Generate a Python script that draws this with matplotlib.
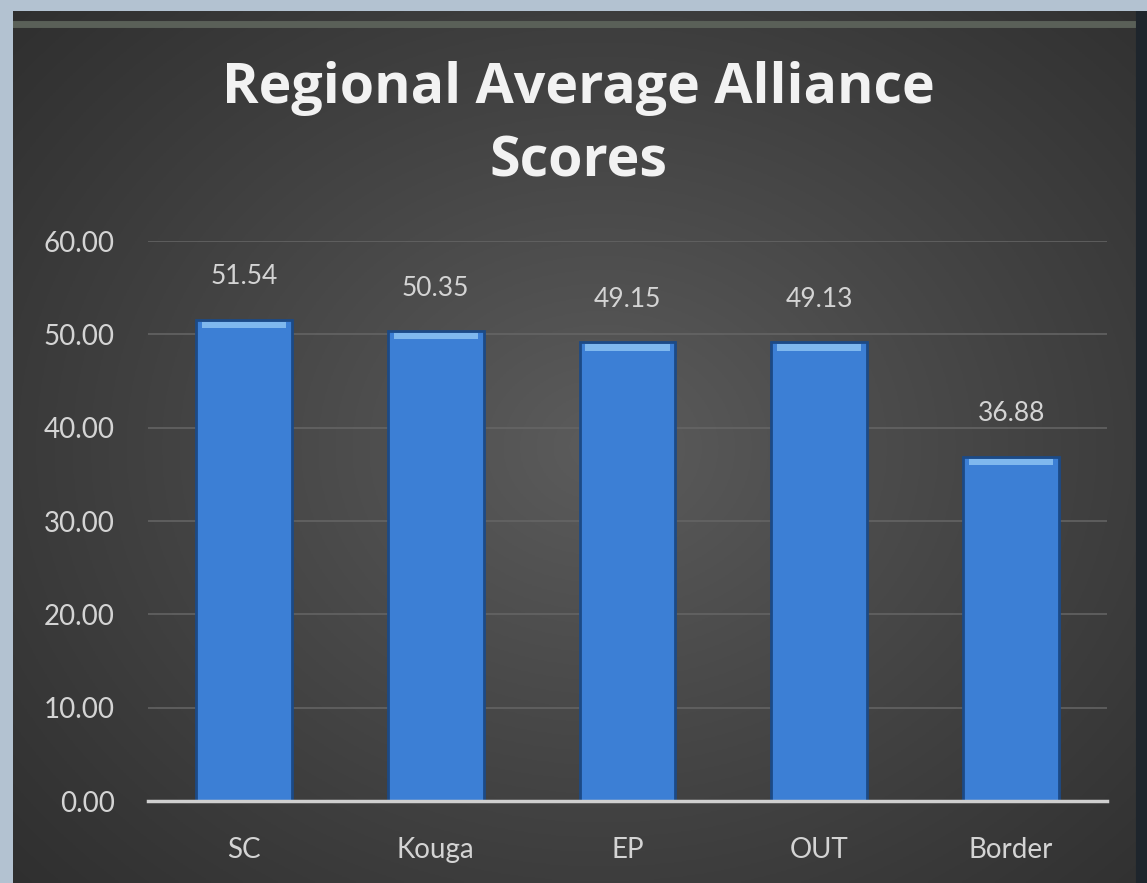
import matplotlib.pyplot as plt
import numpy as np

regions = ["SC", "Kouga", "EP", "OUT", "Border"]
scores = [51.54, 50.35, 49.15, 49.13, 36.88]
y_ticks = [0, 10, 20, 30, 40, 50, 60]

font = "Lato"
text_color = "#d4d4d4"

fig = plt.figure(figsize=(11.47, 8.83), dpi=100)
fig.patch.set_facecolor("#b3c2d1")

# dark panel with a soft radial gradient
bg = fig.add_axes([13 / 1147, 0, 1 - 13 / 1147, 1 - 11 / 883])
yy, xx = np.mgrid[0:1:300j, 0:1:400j]
r = np.sqrt(((xx - 0.52) / 0.75) ** 2 + ((yy - 0.5) / 0.8) ** 2)
shade = np.clip(1 - r, 0, 1) ** 1.1
lo = np.array([0x2d, 0x2d, 0x2d]) / 255
hi = np.array([0x5c, 0x5c, 0x5c]) / 255
img = lo + (hi - lo) * shade[..., None]
bg.imshow(img, aspect="auto", extent=[0, 1, 0, 1], origin="lower")
bg.axhline(0.985, color="#5a6058", lw=5)
bg.axvline(0.995, color="#1e252c", lw=8)
bg.set_axis_off()

ax = fig.add_axes([148 / 1147, 1 - 801 / 883, (1107 - 148) / 1147, (801 - 241) / 883])
ax.set_facecolor("none")
x = np.arange(len(regions))
ax.bar(x, scores, width=0.5, color="#3c7fd5", edgecolor="#1c4a86", linewidth=2, zorder=3)
# lighter cap on each bar
ax.bar(x, [0.7] * len(scores), bottom=np.array(scores) - 0.9, width=0.44,
       color="#7fb8ee", linewidth=0, zorder=4)

for xi, v in zip(x, scores):
    ax.annotate(f"{v:.2f}", (xi, v), xytext=(0, 22), textcoords="offset points",
                ha="center", va="bottom", color=text_color, fontsize=19, family=font)

ax.set_xlim(-0.5, len(regions) - 0.5)
ax.set_ylim(0, 60)
ax.set_yticks(y_ticks)
ax.set_yticklabels([f"{t:.2f}" for t in y_ticks])
ax.set_xticks(x)
ax.set_xticklabels(regions)
ax.tick_params(length=0, colors=text_color, labelsize=20)
ax.tick_params(axis="y", pad=24)
ax.tick_params(axis="x", pad=26)
for lbl in ax.get_xticklabels() + ax.get_yticklabels():
    lbl.set_family(font)
ax.grid(axis="y", color="#666666", lw=1.1, zorder=0)
for side in ["top", "right", "left"]:
    ax.spines[side].set_visible(False)
ax.spines["bottom"].set_color("#cfcfcf")
ax.spines["bottom"].set_linewidth(2.5)
ax.spines["bottom"].set_zorder(5)

fig.text(0.504, 1 - 125 / 883, "Regional Average Alliance\nScores", ha="center", va="center",
         color="#f2f2f2", fontsize=40, fontweight="bold", family="Open Sans", linespacing=1.45)

fig.savefig("out.png", dpi=100, facecolor=fig.get_facecolor())
